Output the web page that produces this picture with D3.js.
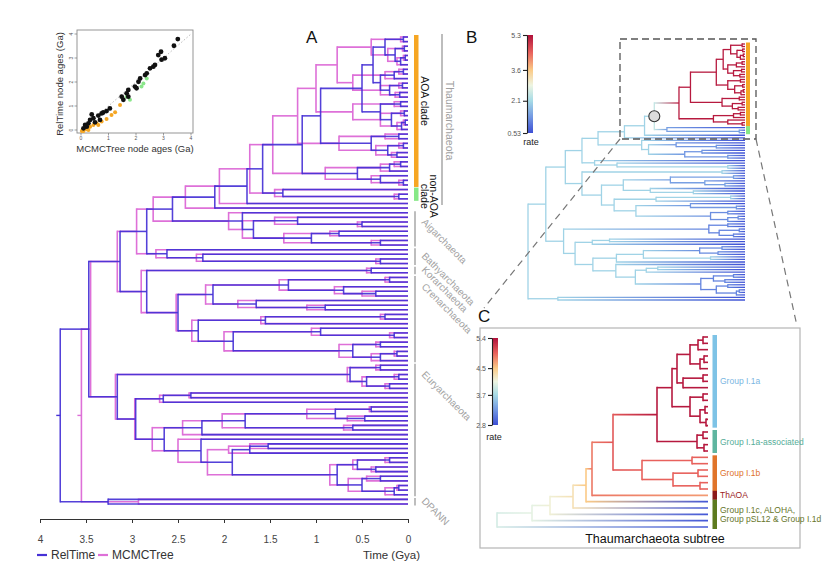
<!DOCTYPE html>
<html><head><meta charset="utf-8">
<script src="https://cdn.jsdelivr.net/npm/d3@7"></script>
<style>
body{margin:0;background:#fff;}
svg{display:block;font-family:"Liberation Sans",Arial,sans-serif;}
</style></head><body>
<svg id="fig" width="833" height="581"></svg>
<script>
// ===================== DATA =====================
// Time axis (panel A)
const timeTicks = [4, 3.5, 3, 2.5, 2, 1.5, 1, 0.5, 0];
const timeTickLabels = ["4", "3.5", "3", "2.5", "2", "1.5", "1", "0.5", "0"];
const seriesNames = ["RelTime", "MCMCTree"];
const seriesColors = ["#4631d6", "#de70d8"];

// Tree clades. Internal node label = RelTimeAge/MCMCTreeAge [@rate] [*circle] {clade}
// leaf "x" = tip with low (blue) rate, leaf "h" = tip inheriting its parent's rate
const aoaB4 = "((h,h)0.05/0.08,((h,h)0.04/0.06,((h,h)0.03/0.05,h)0.08/0.12)0.14/0.22)0.25/0.4";
const aoaB5 = "(((h,h)0.05/0.1,h)0.15/0.25,((h,h)0.06/0.1,(h,h)0.09/0.14)0.2/0.3)0.3/0.6";
const aoaB3 = "((h,h)0.08/0.15,((h,h)0.04/0.08,((h,h)0.03/0.05,h)0.07/0.12)0.18/0.3)0.3/0.6";
const aoaB2 = "((h,h)0.1/0.25,((h,h)0.05/0.1,(h,h)0.12/0.18)0.22/0.35)0.4/0.75";
const aoaB1 = "(((h,h)0.08/0.15,h)0.2/0.3,(h,(h,h)0.05/0.1)0.3/0.4)0.55/0.9";
const cladeAOA = `((((${aoaB4},${aoaB5})0.38/0.77,${aoaB3})0.5/1.0,${aoaB2})0.95/1.2,${aoaB1})1.15/1.47@5.2{AOA}`;
const cladeNonAOA = "(x,(x,x)0.1/0.15)1.36/1.45@1.4{nonAOA}";
const cladeThaum = `(((${cladeAOA},${cladeNonAOA})1.58/1.72@2.4*,x)1.75/2.05,x)2.1/2.42{Thaumarchaeota}`;
const cladeAig = "(x,((x,(x,x)0.5/0.55)1.2/1.45@1.3,((x,x)0.75/0.85,(x,x)0.3/0.4)1.05/1.35@1.3)1.68/1.8)1.8/1.95{Aigarchaeota}";
const cladeBathy = "(x,(x,(x,x)0.3/0.35)2.23/2.3)2.62/2.74{Bathyarchaeota}";
const cladeKor = "(x,x)0.4/0.45{Korarchaeota}";
const crenC1 = "(((x,x)0.2/0.25,(x,(x,x)0.35/0.5)0.7/0.8)1.3/1.4@1.4,(x,(x,x)0.9/1.1)1.65/1.85)2.12/2.2";
const crenC2 = "(((x,x)0.25/0.3,x)1.55/1.6,((x,(x,x)0.15/0.2)0.95/1.05@1.3,((x,x)0.3/0.35,((x,x)0.12/0.15,x)0.3/0.4)0.6/0.75@1.2)1.9/2.0)2.28/2.35";
const cladeCren = `(${crenC1},${crenC2})2.5/2.52{Crenarchaeota}`;
const euryE1 = "((x,x)0.3/0.35,((x,x)0.1/0.15,(x,x)0.2/0.25)0.45/0.5)0.63/0.66@1.1";
const euryE2a = "((x,x)2.36/2.38,x)2.66/2.7";
const euryE3 = "((((x,x)0.4/0.42,(x,x)0.47/0.66)0.79/1.1@1.2,(x,x)0.6/0.7)1.77/2.02,x)2.24/2.45";
const euryE5 = "(((x,x)0.2/0.25,(x,x)0.35/0.4)0.55/0.6,((x,x)0.3/0.45,((x,x)0.1/0.12,x)0.15/0.25)0.5/0.65)0.77/0.85@1.1";
const euryE4 = `(x,(((x,x)1.52/1.72,x)1.72/1.95,${euryE5})1.91/2.18)2.25/2.5`;
const cladeEury = `(${euryE1},(${euryE2a},(${euryE3},${euryE4})2.65/2.78)2.96/2.97)3.16/3.18{Euryarchaeota}`;
const cladeDPANN = "(x,x)3.26/2.93{DPANN}";
const archaeaTree = `(((((${cladeThaum},${cladeAig})2.56/2.77,${cladeBathy})2.84/2.95,(${cladeKor},${cladeCren})2.84/2.9)3.13/3.16,${cladeEury})3.47/3.45,${cladeDPANN})3.78/3.55@2.0`;

// Panel A clade labels
const cladeLabelsA = ["Aigarchaeota", "Bathyarchaeota", "Korarchaeota", "Crenarchaeota", "Euryarchaeota", "DPANN"];

// Panel C: Thaumarchaeota subtree, label = depth@rate {group}
const subIaUp = "((((h,h)0.05,h)0.1,((h,h)0.04,h)0.08)0.18,((h,h)0.05,h)0.25)0.31";
const subIaLow = "((h,h)0.05,((h,h)0.03,(h,h)0.02)0.08)0.18";
const subIa = `(${subIaUp},${subIaLow})0.36{Group I.1a}`;
const subAssoc = "((h,h)0.05,(h,h)0.04)0.11{Group I.1a-associated}";
const subI1b = "((h,h)0.16,((h,h)0.1,(h,h)0.08)0.35)0.66@4.95{Group I.1b}";
const subN400 = `((${subIa},${subAssoc})0.51@5.35,${subI1b})0.95@5.0`;
const subN335 = `(${subN400},h@4.7{ThAOA})1.16@4.85`;
const thaumSubtree = `(((((${subN335},x{I1c})1.22@4.5,x{I1c})1.35@4.3,x{I1c})1.58@4.15,x{I1c})1.76@4.05,x{I1c})2.11@3.95`;
const groupNames = ["Group I.1a", "Group I.1a-associated", "Group I.1b", "ThAOA", "I1c"];
const groupTexts = [["Group I.1a"], ["Group I.1a-associated"], ["Group I.1b"], ["ThAOA"], ["Group I.1c, ALOHA,", "Group pSL12 & Group I.1d"]];
const groupColors = ["#7ec3e6", "#5fb5a0", "#e0742a", "#8b1a1a", "#5d7a1f"];
const groupTextColors = ["#7ab6e2", "#55ad98", "#e0702a", "#9b1b1b", "#66752a"];

// Rate colour legends
const rateColors = ["#3d4fd5", "#7297e2", "#a6dbe6", "#eef5e2", "#fbca86", "#e8615c", "#b0103b"];
const rateStopsB = [0.53, 1.3, 2.1, 2.85, 3.6, 4.45, 5.3];
const rateTicksB = [0.53, 2.1, 3.6, 5.3];
const rateTickLabelsB = ["0.53", "2.1", "3.6", "5.3"];
const rateStopsC = [2.8, 3.25, 3.7, 4.1, 4.5, 4.95, 5.4];
const rateTicksC = [2.8, 3.7, 4.5, 5.4];
const rateTickLabelsC = ["2.8", "3.7", "4.5", "5.4"];

// Inset scatter: [MCMCTree age, RelTime age]
const scatterBlack = [[3.52,3.79],[3.38,3.51],[2.91,3.26],[3.05,2.99],[2.93,2.93],[2.81,3.12],[2.69,2.71],[2.63,2.64],[2.51,2.57],[2.39,2.36],[2.33,2.29],[2.15,2.15],[2.09,2.01],[1.96,1.81],[2.02,1.74],[1.72,1.67],[1.66,1.53],[1.48,1.39],[1.54,1.26],[1.72,1.39],[1.05,0.9],[0.93,0.79],[0.75,0.69],[0.63,0.6],[0.39,0.65],[0.33,0.42],[0.27,0.28],[0.51,0.32],[0.69,0.42],[0.15,0.21],[0.21,0.14],[0.09,0.07],[0.45,0.49],[0.81,0.73]];
const scatterGreen = [[2.39,2.15],[2.2,1.81],[1.66,1.39],[1.78,1.26],[2.27,1.94]];
const scatterOrange = [[1.42,1.04],[0.09,-0.04],[0.21,0.03],[0.33,0.14],[0.45,0.21],[0.57,0.28],[0.75,0.35],[0.93,0.46],[0.27,0.0],[1.11,0.63],[1.24,0.74],[0.63,0.21],[0.03,-0.04]];
const scatterTicks = [0, 1, 2, 3, 4];

// ===================== HELPERS =====================
function parseTree(s) {
  let i = 0;
  function num() { const st = i; while (i < s.length && /[0-9.\-]/.test(s[i])) i++; return parseFloat(s.slice(st, i)); }
  function label(n) {
    const ages = [];
    if (/[0-9.]/.test(s[i])) { ages.push(num()); while (s[i] === "/") { i++; ages.push(num()); } }
    n.ages = ages;
    if (s[i] === "@") { i++; n.rate = num(); }
    if (s[i] === "*") { i++; n.mark = true; }
    if (s[i] === "{") { const e = s.indexOf("}", i); n.tag = s.slice(i + 1, e); i = e + 1; }
  }
  function node() {
    const n = { children: [] };
    if (s[i] === "(") {
      i++; n.children.push(node());
      while (s[i] === ",") { i++; n.children.push(node()); }
      i++;
    } else { n.leaf = s[i]; i++; }
    label(n);
    return n;
  }
  return node();
}
function layout(root, tipRange, tipRate) {
  const nodes = [], leaves = [];
  (function walk(n, p) {
    n.parent = p; nodes.push(n);
    if (!n.children.length) { n.idx = leaves.length; leaves.push(n); if (!n.ages.length) n.ages = [0, 0]; }
    n.children.forEach(c => walk(c, n));
  })(root, null);
  const yS = d3.scaleLinear().domain([0, leaves.length - 1]).range(tipRange);
  (function setY(n) {
    if (!n.children.length) n.y = yS(n.idx);
    else { n.children.forEach(setY); n.y = (n.children[0].y + n.children[n.children.length - 1].y) / 2; }
  })(root);
  (function setR(n, pr) {
    if (n.rate !== undefined) n.r = n.rate;
    else if (!n.children.length) n.r = n.leaf === "h" ? pr : tipRate;
    else n.r = pr;
    n.children.forEach(c => setR(c, n.r));
  })(root, tipRate);
  return { root, nodes, leaves, yS };
}
function leafSpan(n) {
  if (!n.children.length) return [n.idx, n.idx];
  return [leafSpan(n.children[0])[0], leafSpan(n.children[n.children.length - 1])[1]];
}
function tagRange(tree, tag) {
  let lo = 1e9, hi = -1;
  tree.nodes.filter(n => n.tag === tag).forEach(n => { const s = leafSpan(n); lo = Math.min(lo, s[0]); hi = Math.max(hi, s[1]); });
  return [tree.yS(lo), tree.yS(hi)];
}

const svg = d3.select("#fig");
const defs = svg.append("defs");
let gid = 0;
function gradH(x1, x2, c1, c2) {
  if (c1 === c2 || Math.abs(x1 - x2) < 0.5) return c2;
  const id = "gr" + (gid++);
  const lg = defs.append("linearGradient").attr("id", id).attr("gradientUnits", "userSpaceOnUse")
    .attr("x1", x1).attr("x2", x2).attr("y1", 0).attr("y2", 0);
  lg.append("stop").attr("offset", 0).attr("stop-color", c1);
  lg.append("stop").attr("offset", 1).attr("stop-color", c2);
  return `url(#${id})`;
}
function drawTree(g, tree, xf, colH, colV, width, opacity) {
  tree.nodes.forEach(n => {
    if (!n.children.length) return;
    const ys = n.children.map(c => c.y);
    g.append("line").attr("x1", xf(n)).attr("x2", xf(n)).attr("y1", d3.min(ys)).attr("y2", d3.max(ys))
      .attr("stroke", colV(n)).attr("stroke-width", width).attr("stroke-linecap", "square").attr("opacity", opacity);
    n.children.forEach(c => {
      g.append("line").attr("x1", xf(n)).attr("x2", xf(c)).attr("y1", c.y).attr("y2", c.y)
        .attr("stroke", colH(n, c)).attr("stroke-width", width).attr("opacity", opacity);
    });
  });
}
function rotText(g, x, y, angle, txt, size, color, anchor) {
  return g.append("text").attr("transform", `translate(${x},${y}) rotate(${angle})`)
    .attr("text-anchor", anchor || "start").attr("font-size", size).attr("fill", color).text(txt);
}

// ===================== PANEL A =====================
const gA = svg.append("g");
const xA = d3.scaleLinear().domain([4, 0]).range([40, 408]);
const treeA = layout(parseTree(archaeaTree), [37, 504], 0.55);
// MCMCTree first, RelTime on top
drawTree(gA, treeA, n => xA(n.ages[1]), () => seriesColors[1], () => seriesColors[1], 1.6, 1);
gA.append("line").attr("x1", xA(treeA.root.ages[1]) - 4).attr("x2", xA(treeA.root.ages[1])).attr("y1", treeA.root.y).attr("y2", treeA.root.y).attr("stroke", seriesColors[1]).attr("stroke-width", 1.4);
drawTree(gA, treeA, n => xA(n.ages[0]), () => seriesColors[0], () => seriesColors[0], 1.55, 0.92);
gA.append("line").attr("x1", xA(treeA.root.ages[0]) - 4).attr("x2", xA(treeA.root.ages[0])).attr("y1", treeA.root.y).attr("y2", treeA.root.y).attr("stroke", seriesColors[0]).attr("stroke-width", 1.4);

// axis
const axA = gA.append("g").attr("transform", "translate(0,519)")
  .call(d3.axisBottom(xA).tickValues(timeTicks).tickFormat((d, i) => timeTickLabels[i]).tickSize(4).tickSizeOuter(0).tickPadding(13));
axA.selectAll("text").attr("font-size", 10).attr("fill", "#444").attr("font-family", '"Liberation Sans",Arial,sans-serif');
axA.selectAll("path,line").attr("stroke", "#333");
gA.append("text").attr("x", 363).attr("y", 559).attr("font-size", 11.5).attr("fill", "#333").text("Time (Gya)");
// legend
seriesNames.forEach((nm, i) => {
  const x0 = [37, 98][i];
  gA.append("line").attr("x1", x0).attr("x2", x0 + 10).attr("y1", 555).attr("y2", 555).attr("stroke", seriesColors[i]).attr("stroke-width", 2.2);
  gA.append("text").attr("x", x0 + 14).attr("y", 559).attr("font-size", 12).attr("fill", "#333").text(nm);
});
gA.append("text").attr("x", 306).attr("y", 43).attr("font-size", 17).attr("fill", "#111").text("A");

// clade annotations
const rAOA = tagRange(treeA, "AOA"), rNon = tagRange(treeA, "nonAOA"), rTh = tagRange(treeA, "Thaumarchaeota");
gA.append("rect").attr("x", 414).attr("y", rAOA[0] - 2).attr("width", 4.5).attr("height", rAOA[1] - rAOA[0] + 4).attr("fill", "#f6a623");
gA.append("rect").attr("x", 414).attr("y", rNon[0] - 2).attr("width", 4.5).attr("height", rNon[1] - rNon[0] + 4).attr("fill", "#86e886");
gA.append("line").attr("x1", 442).attr("x2", 442).attr("y1", rTh[0] - 3).attr("y2", rTh[1] - 3).attr("stroke", "#9a9a9a").attr("stroke-width", 1.3);
rotText(gA, 421, (rAOA[0] + rAOA[1]) / 2 - 10, 90, "AOA clade", 10.5, "#111", "middle");
rotText(gA, 430, (rNon[0] + rNon[1]) / 2 + 2, 90, "non-AOA", 10.5, "#111", "middle");
rotText(gA, 421, (rNon[0] + rNon[1]) / 2 + 2, 90, "clade", 10.5, "#111", "middle");
rotText(gA, 446, (rTh[0] + rTh[1]) / 2 - 2, 90, "Thaumarchaeota", 10.5, "#a0a0a0", "middle");
cladeLabelsA.forEach(nm => {
  const r = tagRange(treeA, nm);
  gA.append("line").attr("x1", 415).attr("x2", 415).attr("y1", r[0] - 1.5).attr("y2", r[1] + 1.5).attr("stroke", "#9a9a9a").attr("stroke-width", 1.3);
  rotText(gA, 421, Math.min((r[0] + r[1]) / 2, r[0] + 10) , 45, nm, 10, "#a3a3a3");
});

// inset scatter
const gS = svg.append("g");
const sx = d3.scaleLinear().domain([0, 4]).range([81, 191]);
const sy = d3.scaleLinear().domain([0, 4]).range([130, 34]);
gS.append("rect").attr("x", 77).attr("y", 30).attr("width", 116).attr("height", 103).attr("fill", "none").attr("stroke", "#8a8a8a").attr("stroke-width", 0.9);
gS.append("line").attr("x1", sx(0)).attr("y1", sy(0)).attr("x2", sx(4)).attr("y2", sy(4)).attr("stroke", "#bbb").attr("stroke-dasharray", "1.5,2").attr("stroke-width", 1);
scatterTicks.forEach(t => {
  gS.append("line").attr("x1", sx(t)).attr("x2", sx(t)).attr("y1", 133).attr("y2", 135.5).attr("stroke", "#777").attr("stroke-width", 0.7);
  gS.append("text").attr("x", sx(t)).attr("y", 140).attr("text-anchor", "middle").attr("font-size", 5).attr("fill", "#555").text(t);
  gS.append("line").attr("x1", 74.5).attr("x2", 77).attr("y1", sy(t)).attr("y2", sy(t)).attr("stroke", "#777").attr("stroke-width", 0.7);
  rotText(gS, 73, sy(t), -90, String(t), 5, "#555", "middle");
});
const dots = [[scatterOrange, "#f5a623", 2.0], [scatterGreen, "#8ae68a", 2.0], [scatterBlack, "#111", 2.4]];
dots.forEach(([arr, c, r]) => arr.forEach(p => gS.append("circle").attr("cx", sx(p[0])).attr("cy", sy(p[1])).attr("r", r).attr("fill", c)));
gS.append("text").attr("x", 135).attr("y", 152).attr("text-anchor", "middle").attr("font-size", 9.5).attr("fill", "#333").text("MCMCTree node ages (Ga)");
rotText(gS, 63, 84, -90, "RelTime node ages (Ga)", 9.5, "#333", "middle");

// ===================== PANEL B =====================
const gB = svg.append("g");
const colB = d3.scaleLinear().domain(rateStopsB).range(rateColors).clamp(true);
const xB = d3.scaleLinear().domain([3.78, 0]).range([528, 745]);
const treeB = layout(parseTree(archaeaTree), [44, 300], 0.55);
drawTree(gB, treeB, n => xB(n.ages[0]),
  (n, c) => gradH(xB(n.ages[0]), xB(c.ages[0]), colB(n.r), colB(c.r)),
  n => colB(n.r), 1.3, 1);
const bAOA = tagRange(treeB, "AOA"), bNon = tagRange(treeB, "nonAOA");
gB.append("rect").attr("x", 746).attr("y", bAOA[0] - 1.5).attr("width", 4).attr("height", bAOA[1] - bAOA[0] + 3).attr("fill", "#f6a623");
gB.append("rect").attr("x", 746).attr("y", bNon[0] - 1.5).attr("width", 4).attr("height", bNon[1] - bNon[0] + 3).attr("fill", "#86e886");
treeB.nodes.filter(n => n.mark).forEach(n => {
  gB.append("circle").attr("cx", xB(n.ages[0])).attr("cy", n.y).attr("r", 5.5).attr("fill", "#dcdcdc").attr("stroke", "#333").attr("stroke-width", 1.1);
});
gB.append("text").attr("x", 466).attr("y", 43).attr("font-size", 17).attr("fill", "#111").text("B");
// dashed zoom box & connectors
gB.append("rect").attr("x", 620).attr("y", 39).attr("width", 136).attr("height", 100).attr("fill", "none").attr("stroke", "#555").attr("stroke-width", 1.3).attr("stroke-dasharray", "7,4");
gB.append("line").attr("x1", 620).attr("y1", 139).attr("x2", 484).attr("y2", 308).attr("stroke", "#777").attr("stroke-width", 1.2).attr("stroke-dasharray", "7,5");
gB.append("line").attr("x1", 756).attr("y1", 139).attr("x2", 797).attr("y2", 326).attr("stroke", "#777").attr("stroke-width", 1.2).attr("stroke-dasharray", "7,5");

// legend bar
function rateLegend(g, stops, ticks, tickLabels, col, x, y0, y1, labX, labY) {
  const id = "leg" + (gid++);
  const lg = defs.append("linearGradient").attr("id", id).attr("x1", 0).attr("x2", 0).attr("y1", 1).attr("y2", 0);
  const ext = d3.extent(stops);
  stops.forEach(s => lg.append("stop").attr("offset", (s - ext[0]) / (ext[1] - ext[0])).attr("stop-color", col(s)));
  g.append("rect").attr("x", x).attr("y", y0).attr("width", 6).attr("height", y1 - y0).attr("fill", `url(#${id})`);
  const sc = d3.scaleLinear().domain(ext).range([y1, y0]);
  const ax = g.append("g").attr("transform", `translate(${x},0)`)
    .call(d3.axisLeft(sc).tickValues(ticks).tickFormat((d, i) => tickLabels[i]).tickSize(4).tickSizeOuter(0).tickPadding(2));
  ax.selectAll("text").attr("font-size", 7).attr("fill", "#555").attr("font-family", '"Liberation Sans",Arial,sans-serif');
  ax.selectAll("path,line").attr("stroke", "#222").attr("stroke-width", 1.1);
  g.append("text").attr("x", labX).attr("y", labY).attr("text-anchor", "middle").attr("font-size", 9).attr("fill", "#222").text("rate");
}
rateLegend(gB, rateStopsB, rateTicksB, rateTickLabelsB, colB, 527, 35, 133, 531, 145);

// ===================== PANEL C =====================
const gC = svg.append("g");
gC.append("rect").attr("x", 480).attr("y", 328).attr("width", 320).attr("height", 220).attr("fill", "none").attr("stroke", "#b5b5b5").attr("stroke-width", 1.2);
gC.append("text").attr("x", 478).attr("y", 322).attr("font-size", 17).attr("fill", "#111").text("C");
const colC = d3.scaleLinear().domain(rateStopsC).range(rateColors).clamp(true);
const xC = d3.scaleLinear().domain([2.11, 0]).range([497, 708]);
const treeC = layout(parseTree(thaumSubtree), [337, 527], 2.85);
drawTree(gC, treeC, n => xC(n.ages[0]),
  (n, c) => gradH(xC(n.ages[0]), xC(c.ages[0]), colC(n.r), colC(c.r)),
  n => colC(n.r), 1.6, 1);
groupNames.forEach((gname, i) => {
  const r = tagRange(treeC, gname);
  const pad = r[1] - r[0] < 1 ? 4.5 : 2;
  gC.append("rect").attr("x", 712.5).attr("y", r[0] - pad).attr("width", 4.5).attr("height", r[1] - r[0] + 2 * pad).attr("fill", groupColors[i]);
  const lines = groupTexts[i];
  const cy = (r[0] + r[1]) / 2;
  lines.forEach((t, k) => {
    gC.append("text").attr("x", 720).attr("y", cy + 3 + (k - (lines.length - 1) / 2) * 9.5)
      .attr("font-size", 8.5).attr("fill", groupTextColors[i]).text(t);
  });
});
gC.append("text").attr("x", 655).attr("y", 543).attr("text-anchor", "middle").attr("font-size", 12.5).attr("fill", "#111").text("Thaumarchaeota subtree");
rateLegend(gC, rateStopsC, rateTicksC, rateTickLabelsC, colC, 492, 338, 425, 494, 440);
</script>
</body></html>
